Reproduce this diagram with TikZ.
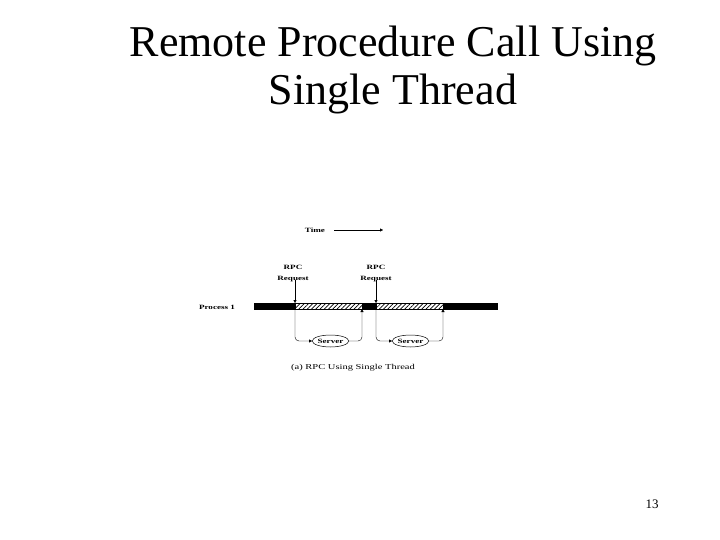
\documentclass[tikz,border=0pt]{standalone}
\usepackage{fontspec}
\usepackage{graphicx}
\setmainfont{Liberation Serif}
\usetikzlibrary{patterns,patterns.meta,arrows.meta,positioning,shapes.geometric}
\newcommand{\widetext}[1]{\scalebox{1.4}[1]{#1}}

\begin{document}
\begin{tikzpicture}[x=1pt,y=-1pt]
    \tikzstyle{lbl}=[inner sep=0pt,align=center,font=\fontsize{6.5}{10.5}\selectfont\bfseries]
    \tikzstyle{link}=[line width=0.4pt,-{Triangle[length=3pt,width=3pt]}]
    \tikzstyle{server}=[draw,ellipse,line width=0.5pt,minimum width=33pt,
        minimum height=12pt,inner sep=0pt,font=\fontsize{6.5}{7}\selectfont\bfseries]
    \tikzstyle{busy}=[fill=black,draw=black,line width=0.4pt]
    \tikzstyle{blocked}=[pattern={Lines[angle=45,distance=3pt,line width=0.7pt]}]
    \useasboundingbox (0,0) rectangle (720,540);
    % Title
    \node[align=center,font=\fontsize{44}{48}\selectfont] (title) at (393,70)
        {Remote Procedure Call Using\\Single Thread};
    \node[font=\fontsize{13}{13}\selectfont] (page) at (652,504) {13};
    % Time axis
    \node[lbl] (time) at (315,230) {\widetext{Time}};
    \coordinate (tend) at (383,230);
    \draw[link] ([xshift=9pt]time.east) -- (tend);
    % Process 1 bar
    \node[lbl] (proc) at (217,307) {\widetext{Process 1}};
    \draw[busy] (254,303) rectangle (497,309);
    \fill[white] (295,303) rectangle (362,309);
    \fill[blocked] (295,303) rectangle (362,309);
    \draw[line width=0.4pt] (295,303) rectangle (362,309);
    \fill[white] (376,303) rectangle (443,309);
    \fill[blocked] (376,303) rectangle (443,309);
    \draw[line width=0.4pt] (376,303) rectangle (443,309);
    % Requests
    \node[lbl] (req1) at (293,273.5) {\widetext{RPC}\\\widetext{Request}};
    \node[lbl] (req2) at (376,273.5) {\widetext{RPC}\\\widetext{Request}};
    \coordinate (in1) at (295,303);
    \coordinate (in2) at (376,303);
    \draw[link] ([yshift=2pt]req1.south -| in1) -- (in1);
    \draw[link] ([yshift=2pt]req2.south -| in2) -- (in2);
    % Servers
    \node[server] (srv1) at (330.5,341) {\widetext{Server}};
    \node[server] (srv2) at (410.5,341) {\widetext{Server}};
    \coordinate (out1) at (295,309);
    \coordinate (back1) at (362,309);
    \coordinate (out2) at (376,309);
    \coordinate (back2) at (443,309);
    \draw[link,rounded corners=4pt] (out1) |- (srv1.west);
    \draw[link,rounded corners=4pt] (srv1.east) -| (back1);
    \draw[link,rounded corners=4pt] (out2) |- (srv2.west);
    \draw[link,rounded corners=4pt] (srv2.east) -| (back2);
    % Caption
    \node[inner sep=0pt,font=\fontsize{7.5}{8}\selectfont] (cap) at (353,368)
        {\widetext{(a) RPC Using Single Thread}};
\end{tikzpicture}
\end{document}
